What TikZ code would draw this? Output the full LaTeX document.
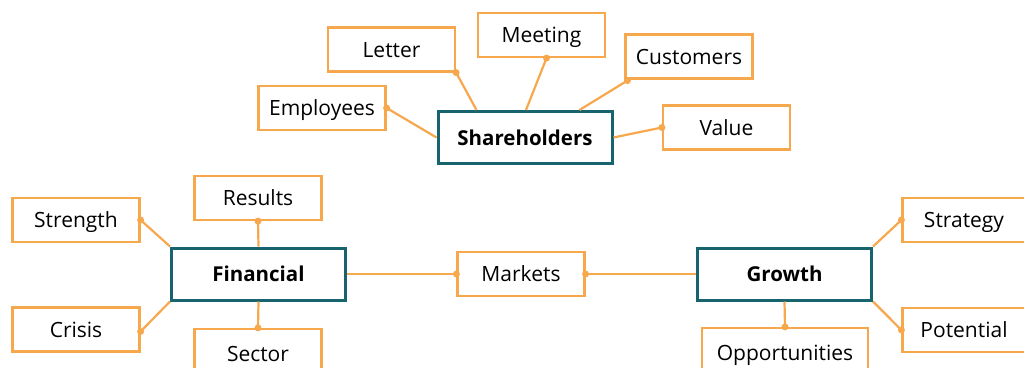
\documentclass[tikz,border=0pt]{standalone}
\usepackage{fontspec}
\setmainfont{Open Sans}
\definecolor{leaf}{HTML}{F7A74C}
\definecolor{hub}{HTML}{17646E}
\begin{document}
\begin{tikzpicture}[x=1pt,y=-1pt,
  leafbox/.style={draw=leaf,line width=2.2pt,fill=white,minimum width=127pt,minimum height=44pt,inner sep=0pt,text height=17pt,text depth=2pt,font=\fontsize{21}{24}\selectfont},
  hubbox/.style={draw=hub,line width=3pt,fill=white,minimum width=174pt,minimum height=52pt,inner sep=0pt,text height=17pt,text depth=2pt,font=\fontsize{20.5}{24}\selectfont\bfseries},
  link/.style={draw=leaf,line width=2.2pt},
  dot/.style={circle,fill=leaf,inner sep=0pt,minimum size=7pt}]
\useasboundingbox (0,0) rectangle (1024,367);
% central topics
\node[hubbox] (sh) at (525,137.5) {Shareholders};
\node[hubbox] (fin) at (258.5,274) {Financial};
\node[hubbox] (gro) at (784.5,274) {Growth};
% shareholder topics
\node[leafbox] (let) at (391.5,49.5) {Letter};
\node[leafbox] (mee) at (541.5,35) {Meeting};
\node[leafbox] (cus) at (689,56.5) {Customers};
\node[leafbox] (emp) at (322,108) {Employees};
\node[leafbox] (val) at (726.5,127.5) {Value};
% financial topics
\node[leafbox] (res) at (258,198) {Results};
\node[leafbox] (str) at (76,220) {Strength};
\node[leafbox] (cri) at (76,329.5) {Crisis};
\node[leafbox,minimum height=50pt] (sec) at (258,354) {Sector};
\node[leafbox] (mar) at (521,274) {Markets};
% growth topics
\node[leafbox] (stg) at (966,220) {\hspace*{-4pt}Strategy};
\node[leafbox] (pot) at (966,330) {\hspace*{-4pt}Potential};
\node[leafbox,minimum width=166pt,minimum height=50pt] (opp) at (785,353) {Opportunities};
% connectors
\draw[link] (sh.west) -- (emp.east) node[dot]{};
\draw[link] ([xshift=40pt]sh.north west) -- (let.south east) node[dot]{};
\draw[link] ([xshift=1pt]sh.north) -- ([xshift=5pt]mee.south) node[dot]{};
\draw[link] ([xshift=-34pt]sh.north east) -- ([xshift=3pt,yshift=-1pt]cus.south west) node[dot]{};
\draw[link] (sh.east) -- (val.west) node[dot]{};
\draw[link] (fin.north west) -- (str.east) node[dot]{};
\draw[link] (fin.north) -- (res.south) node[dot]{};
\draw[link] (fin.south west) -- ([yshift=-2pt]cri.east) node[dot]{};
\draw[link] (fin.south) -- (sec.north) node[dot]{};
\draw[link] (fin.east) -- (mar.west) node[dot]{};
\draw[link] (gro.west) -- (mar.east) node[dot]{};
\draw[link] (gro.north east) -- (stg.west) node[dot]{};
\draw[link] (gro.south east) -- (pot.west) node[dot]{};
\draw[link] (gro.south) -- (opp.north) node[dot]{};
\end{tikzpicture}
\end{document}
